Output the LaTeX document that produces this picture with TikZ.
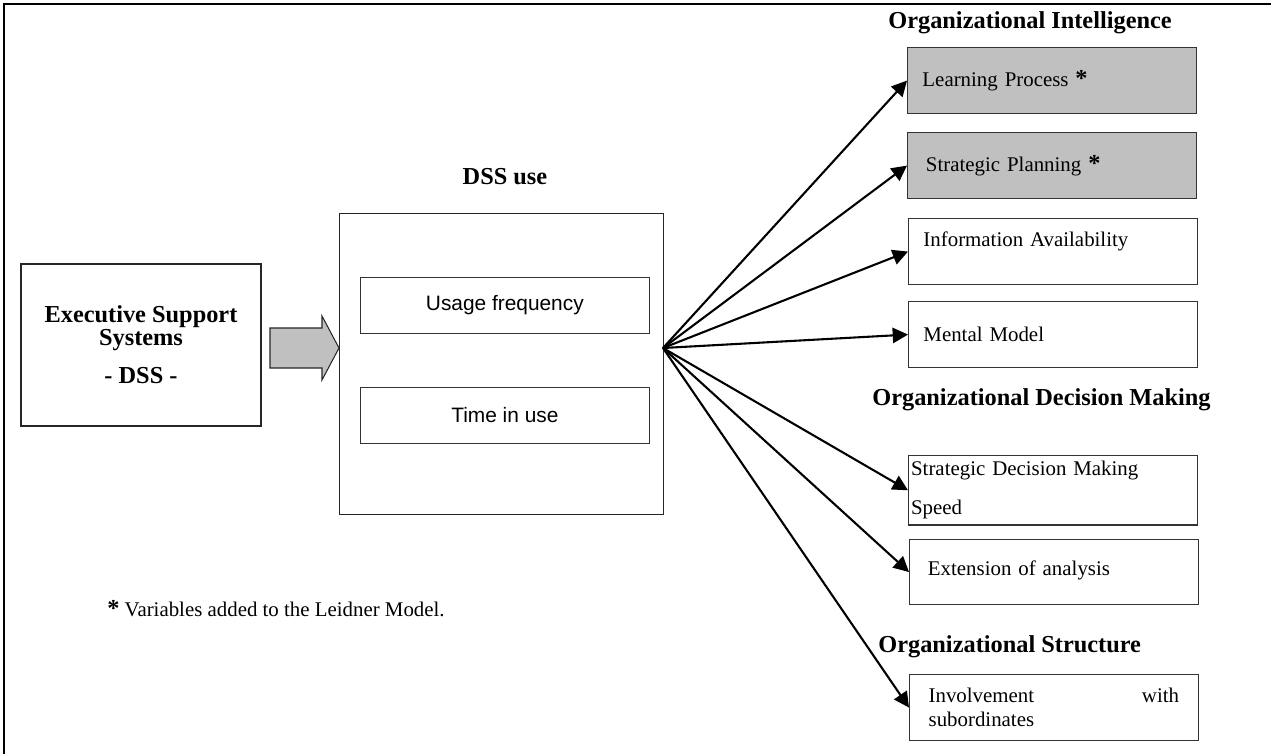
\documentclass[tikz,border=0pt]{standalone}
\usepackage{fontspec}
\setmainfont{Liberation Serif}
\setsansfont{Liberation Sans}
\usepackage{tikz}
\usetikzlibrary{arrows.meta}
\definecolor{boxgray}{HTML}{C0C0C0}
\tikzset{varbox/.style={draw=black!80,line width=0.6pt,anchor=north west,
		minimum width=166pt,minimum height=38pt,text width=149pt,inner xsep=8.6pt,
		align=left,font=\fontsize{12}{14}\selectfont},
	addedbox/.style={varbox,fill=boxgray},
	usebox/.style={draw=black!80,line width=0.6pt,anchor=north west,
		minimum width=166pt,minimum height=32pt,font=\sffamily\fontsize{12}{14}\selectfont},
	heading/.style={anchor=base west,inner sep=0pt,font=\fontsize{14}{16}\selectfont\bfseries},
	link/.style={line width=1.2pt,-{Triangle[length=8.8pt,width=8.8pt]}}}

\begin{document}
\begin{tikzpicture}
	[x=0.575pt,y=-0.575pt]
	\useasboundingbox (0,0) rectangle (1271,754);
	\draw[line width=1.1pt] (4,754) -- (4,4) -- (1271,4);
	\node [draw=black!85,line width=0.7pt,minimum width=138pt,minimum height=93.2pt,
		align=center,font=\fontsize{14}{13.2}\selectfont\bfseries] (ess) at (141,345)
		{Executive Support\\Systems\\[8.7pt]- DSS -};
	\filldraw [fill=boxgray,draw=black!85,line width=0.6pt] (270,328) -- (322,328) -- (322,316)
		-- (339,348) -- (322,380) -- (322,368) -- (270,368) -- cycle;
	\node [heading,anchor=base] (usetitle) at (505,184) {DSS use};
	\node [draw=black!85,line width=0.7pt,anchor=north west,minimum width=186.3pt,
		minimum height=173.1pt] (dssuse) at (339,213) {};
	\node [usebox] (freq) at (360,277) {Usage frequency};
	\node [usebox] (time) at (360,387) {Time in use};
	\coordinate (hub) at (663,348);
	\node [heading] (intel) at (888,28) {Organizational Intelligence};
	\node [addedbox] (learn) at (907,47) {Learning Process {\bfseries\fontsize{14}{14}\selectfont *}};
	\node [addedbox] (plan) at (907,132) {\hspace{2pt}Strategic Planning {\bfseries\fontsize{14}{14}\selectfont *}};
	\node [varbox] (info) at (908,218) {Information Availability\\\mbox{}};
	\node [varbox] (mental) at (908,301) {Mental Model};
	\node [heading] (decision) at (872,405) {Organizational Decision Making};
	\node [varbox,inner xsep=1.2pt,text width=163pt] (speed) at (908,455)
		{Strategic Decision Making\\[8.4pt]Speed};
	\node [varbox,minimum height=37.4pt] (analysis) at (909,539) {\hspace{2pt}Extension of analysis\\[-9pt]\mbox{}};
	\node [heading] (structure) at (878,652) {Organizational Structure};
	\node [varbox,text width=144pt,inner xsep=9pt] (involve) at (909,674)
		{Involvement\hfill with\\subordinates\hspace*{\fill}\kern5pt};
	\foreach \target in {learn,plan,info,mental,speed,analysis,involve}
		\draw [link] (hub) -- (\target.west);
	\node [anchor=base west,inner sep=0pt,font=\fontsize{12}{14}\selectfont] (note) at (107,616)
		{{\bfseries\fontsize{14}{14}\selectfont *} Variables added to the Leidner Model.};
\end{tikzpicture}
\end{document}
